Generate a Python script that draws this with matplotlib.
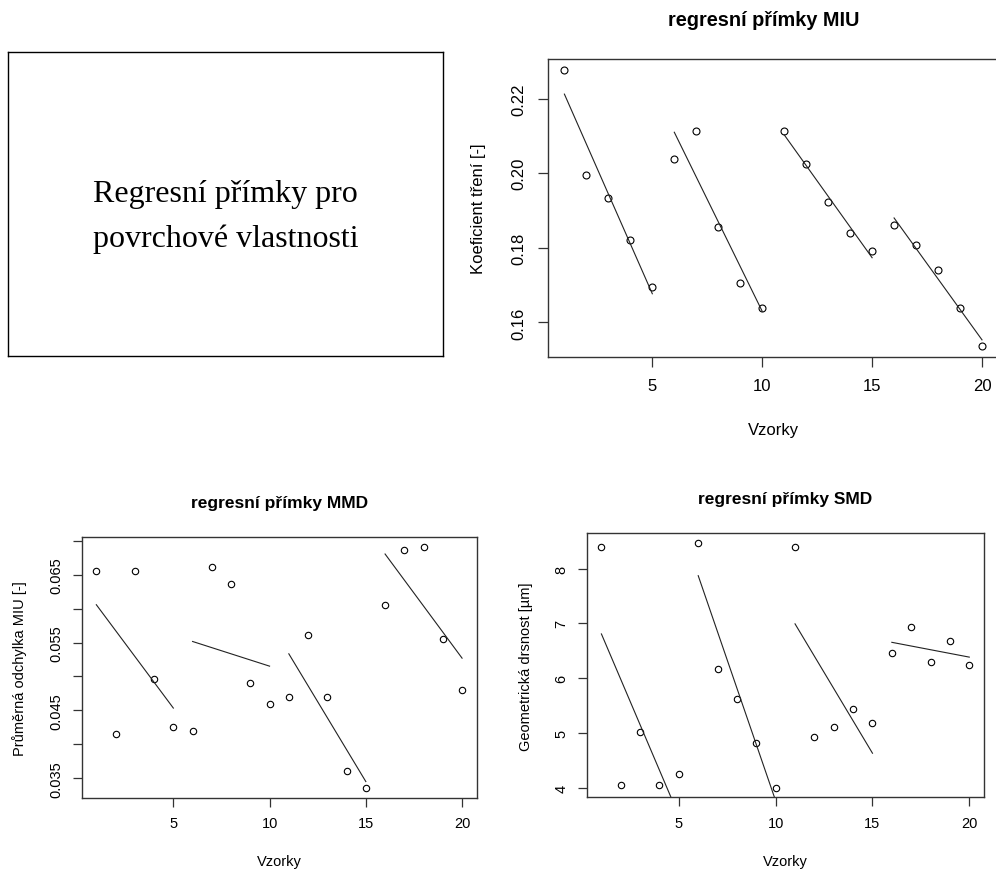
import numpy as np
import matplotlib.pyplot as plt
from matplotlib.ticker import FixedLocator, FuncFormatter

plt.rcParams['font.family'] = ['Liberation Sans', 'DejaVu Sans']

vzorky = np.arange(1, 21)
miu = [0.2276, 0.1996, 0.1935, 0.1822, 0.1694,
       0.2037, 0.2112, 0.1855, 0.1706, 0.1640,
       0.2112, 0.2025, 0.1922, 0.1841, 0.1792,
       0.1861, 0.1807, 0.1741, 0.1638, 0.1537]
mmd = [0.0656, 0.0415, 0.0656, 0.0496, 0.0425,
       0.0420, 0.0661, 0.0636, 0.0490, 0.0460,
       0.0470, 0.0561, 0.0470, 0.0360, 0.0335,
       0.0606, 0.0687, 0.0691, 0.0555, 0.0480]
smd = [8.393, 4.037, 5.020, 4.037, 4.240,
       8.467, 6.169, 5.616, 4.817, 4.000,
       8.393, 4.922, 5.112, 5.438, 5.180,
       6.452, 6.931, 6.292, 6.673, 6.243]
group_size = 5

W, H = 996, 870
fig = plt.figure(figsize=(W / 100, H / 100), dpi=100)


def px_axes(left, top, right, bottom):
    return fig.add_axes([left / W, 1 - bottom / H, (right - left) / W, (bottom - top) / H])


def r_lim(vals):
    lo, hi = min(vals), max(vals)
    pad = 0.04 * (hi - lo)
    return lo - pad, hi + pad


def regplot(ax, y, title, ylabel, yticks, ylabels, fs, title_x, ms, tick_len, pad):
    y = np.asarray(y)
    ax.plot(vzorky, y, 'o', mfc='none', mec='black', ms=ms, mew=0.8)
    for g in range(0, len(vzorky), group_size):
        xs = vzorky[g:g + group_size]
        ys = y[g:g + group_size]
        k, q = np.polyfit(xs, ys, 1)
        ax.plot(xs[[0, -1]], k * xs[[0, -1]] + q, color='#222222', lw=0.8)
    ax.set_xlim(r_lim(vzorky))
    ax.set_ylim(r_lim(y))
    ax.set_xticks([5, 10, 15, 20])
    ax.yaxis.set_major_locator(FixedLocator(yticks))
    ax.yaxis.set_major_formatter(FuncFormatter(lambda v, p: ylabels.get(round(v, 4), '')))
    ax.tick_params(length=tick_len, width=0.9, color='#333333', labelsize=fs, pad=pad)
    ax.tick_params(axis='y', labelrotation=90)
    for lab in ax.get_yticklabels():
        lab.set_va('center')
    for s in ax.spines.values():
        s.set_color('#333333')
        s.set_linewidth(1.0)
    ax.set_title(title, fontsize=fs * 1.19, fontweight='bold', x=title_x, y=1.133,
                 va='center', pad=0)
    ax.set_xlabel('Vzorky', fontsize=fs, va='center')
    ax.set_ylabel(ylabel, fontsize=fs, va='center')


# text panel
tx = px_axes(8.3, 53.3, 442.7, 356.7)
tx.set_xticks([])
tx.set_yticks([])
for s in tx.spines.values():
    s.set_linewidth(1.0)
tx.text(0.5, 0.3626, 'Regresní přímky pro\npovrchové vlastnosti', family='Liberation Serif',
        fontsize=23, ha='center', va='baseline', multialignment='center', linespacing=1.68,
        transform=tx.transAxes)

ax1 = px_axes(547.7, 60.3, 998.7, 358)
regplot(ax1, miu, 'regresní přímky MIU', 'Koeficient tření [-]',
        [0.16, 0.18, 0.20, 0.22], {0.16: '0.16', 0.18: '0.18', 0.2: '0.20', 0.22: '0.22'},
        12, 0.4796, 5.0, 7.5, 7.5)
ax1.xaxis.set_label_coords(0.5, -0.2419)
ax1.yaxis.set_label_coords(-0.1539, 0.5)

ax2 = px_axes(81.7, 538.3, 476.7, 799)
regplot(ax2, mmd, 'regresní přímky MMD', 'Průměrná odchylka MIU [-]',
        [0.035, 0.040, 0.045, 0.050, 0.055, 0.060, 0.065, 0.070],
        {0.035: '0.035', 0.045: '0.045', 0.055: '0.055', 0.065: '0.065'},
        10.5, 0.5, 4.6, 6.5, 6.7)
ax2.xaxis.set_label_coords(0.5, -0.2405)
ax2.yaxis.set_label_coords(-0.1562, 0.5)

ax3 = px_axes(586.7, 534.3, 984, 798.3)
regplot(ax3, smd, 'regresní přímky SMD', 'Geometrická drsnost [µm]',
        [4, 5, 6, 7, 8], {4: '4', 5: '5', 6: '6', 7: '7', 8: '8'},
        10.5, 0.5, 4.6, 6.5, 6.7)
ax3.xaxis.set_label_coords(0.5, -0.240)
ax3.yaxis.set_label_coords(-0.1535, 0.5)

fig.savefig('out.png', dpi=100)
